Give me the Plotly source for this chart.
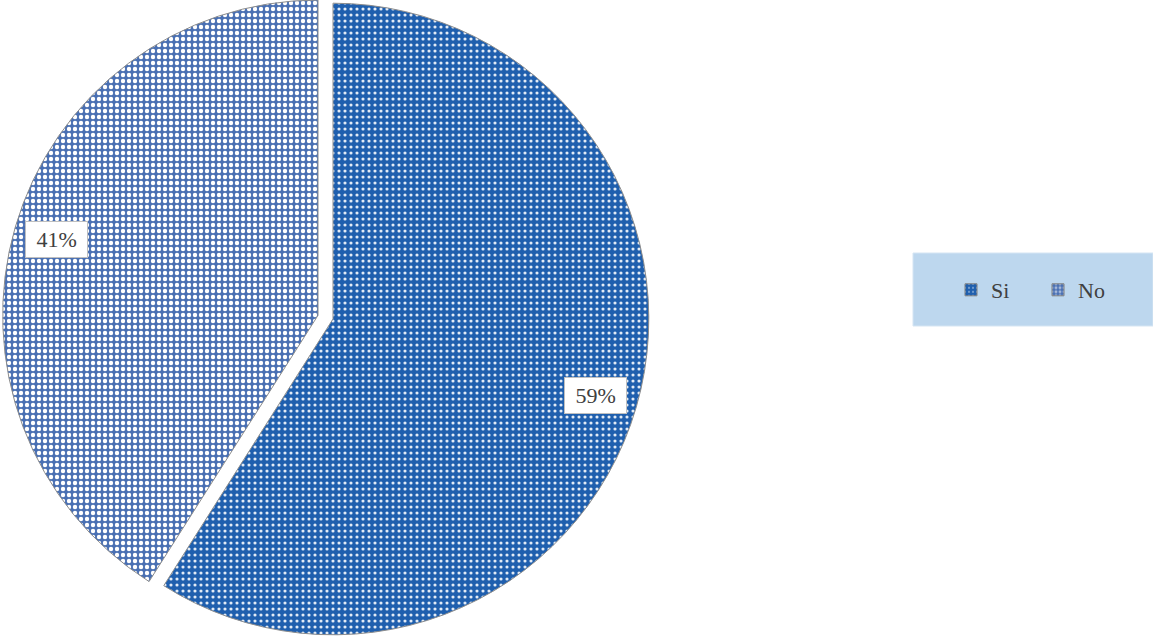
import numpy as np
import plotly.graph_objects as go

# data
labels = ["Si", "No"]
values = [59, 41]
pct_text = ["59%", "41%"]
fill = ["#1f5fae", "#4a70b3"]
pat_shape = [".", "."]
pat_fg = ["#e2ebf6", "#ffffff"]
pat_solid = [0.22, 0.42]

W, H = 1153, 638
CLEAR = "rgba(0,0,0,0)"

fig = go.Figure()

# one pie per slice so the exploded "No" slice keeps the full radius
# domains: Si centred at (333, 319), No shifted out along its mid angle
domains = [
    dict(x=[0, 666 / W], y=[0.005, 0.995]),
    dict(x=[0, 636 / W], y=[0.0115, 1.0]),
]
for i in range(len(labels)):
    cols = [fill[j] if j == i else CLEAR for j in range(len(labels))]
    fig.add_trace(go.Pie(
        labels=[l if j == i else " " * (j + 1) + "_" for j, l in enumerate(labels)],
        values=values,
        sort=False, direction="clockwise", rotation=0,
        textinfo="none", hoverinfo="skip",
        showlegend=False,
        marker=dict(
            colors=cols,
            line=dict(color=["#8c8c8c" if j == i else CLEAR for j in range(len(labels))],
                      width=[1 if j == i else 0 for j in range(len(labels))]),
            pattern=dict(
                shape=[pat_shape[j] if j == i else "" for j in range(len(labels))],
                fgcolor=pat_fg,
                bgcolor=cols,
                size=6,
                solidity=pat_solid,
                fillmode="replace",
            ),
        ),
        domain=domains[i],
    ))

# legend entries (dummy bars carry the pattern swatches)
for i, l in enumerate(labels):
    fig.add_trace(go.Bar(
        x=[None], y=[None], name=l,
        marker=dict(color=fill[i], line=dict(color="#7f7f7f", width=1),
                    pattern=dict(shape=pat_shape[i], fgcolor=pat_fg[i],
                                 bgcolor=fill[i], size=5, solidity=pat_solid[i])),
    ))

# data labels in white boxes, placed from slice mid-angles
start = 0.0
tot = sum(values)
for i, (v, t) in enumerate(zip(values, pct_text)):
    frac = v / tot
    mid = 2 * np.pi * (start + frac / 2)
    start += frac
    d = domains[i]
    cx = (d["x"][0] + d["x"][1]) / 2 * W
    cy = (d["y"][0] + d["y"][1]) / 2 * H
    r = min((d["x"][1] - d["x"][0]) * W, (d["y"][1] - d["y"][0]) * H) / 2
    x = cx + 0.865 * r * np.sin(mid)
    y = cy + 0.865 * r * np.cos(mid)
    fig.add_annotation(
        x=x / W, y=y / H, xref="paper", yref="paper",
        xanchor="center", yanchor="middle",
        text=" " + t + " ", showarrow=False,
        font=dict(family="Liberation Serif", size=22, color="#404040"),
        bgcolor="#ffffff", bordercolor="#bfbfbf", borderwidth=1, borderpad=5,
    )

# legend box
fig.add_shape(type="rect", xref="paper", yref="paper",
              x0=913 / W, x1=1.0, y0=1 - 326 / H, y1=1 - 253 / H,
              fillcolor="#bdd7ee", line=dict(color="#d5e5f3", width=1), layer="below")

fig.update_layout(
    width=W, height=H,
    margin=dict(l=0, r=0, t=0, b=0, autoexpand=False),
    paper_bgcolor="#ffffff",
    plot_bgcolor="rgba(0,0,0,0)",
    xaxis=dict(visible=False), yaxis=dict(visible=False),
    legend=dict(
        orientation="h", x=951 / W, y=1 - 290 / H, xanchor="left", yanchor="middle",
        bgcolor="rgba(0,0,0,0)",
        font=dict(family="Liberation Serif", size=22, color="#404040"),
        itemwidth=30, entrywidth=42,
    ),
)

fig.write_html("out.html", config={"displayModeBar": False},
               post_script="document.body.style.margin='0';document.body.style.overflow='hidden';")
